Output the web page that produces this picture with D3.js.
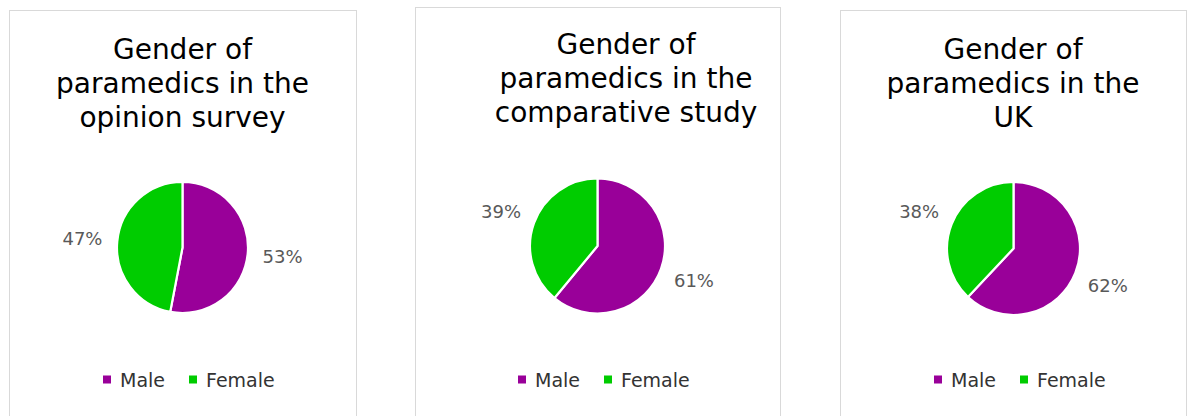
<!DOCTYPE html>
<html><head><meta charset="utf-8">
<script src="https://cdn.jsdelivr.net/npm/d3@7"></script>
<style>html,body{margin:0;padding:0;background:#fff;}svg{display:block;}</style>
</head><body>
<svg id="chart" width="1187" height="416"></svg>
<script>
// ---- data ----
const categories = ["Male", "Female"];
const titleLines = [
  ["Gender of", "paramedics in the", "opinion survey"],
  ["Gender of", "paramedics in the", "comparative study"],
  ["Gender of", "paramedics in the", "UK"]
];
const maleShare = [53, 61, 62];
const femaleShare = [47, 39, 38];
const colors = ["#990099", "#00CC00"];

// ---- layout (per panel) ----
const panels = [
  {x: 9.5, y: 10.5, w: 347, cx: 182.5, cy: 247.5, r: 65.5, tx: 182.5, ty: 59, lx: 103},
  {x: 415.5, y: 7.5, w: 365, cx: 597.5, cy: 246, r: 67.5, tx: 626, ty: 53.5, lx: 518},
  {x: 840.5, y: 10.5, w: 346, cx: 1013.5, cy: 248.5, r: 66.5, tx: 1013, ty: 59, lx: 934}
];

const svg = d3.select("#chart");
const font = "'DejaVu Sans', Verdana, sans-serif";
const color = d3.scaleOrdinal().domain(categories).range(colors);
const pie = d3.pie().sort(null).value(d => d.value);

panels.forEach((p, i) => {
  const g = svg.append("g");
  g.append("rect").attr("x", p.x).attr("y", p.y).attr("width", p.w).attr("height", 430)
    .attr("fill", "#fff").attr("stroke", "#d9d9d9").attr("stroke-width", 1);

  const t = g.append("text").attr("text-anchor", "middle").attr("font-family", font)
    .attr("font-size", 28).attr("fill", "#000");
  titleLines[i].forEach((line, k) => {
    t.append("tspan").attr("x", p.tx).attr("y", p.ty + k * 34.2).text(line);
  });

  const data = [
    {cat: categories[0], value: maleShare[i]},
    {cat: categories[1], value: femaleShare[i]}
  ];
  const arcs = pie(data);
  const arc = d3.arc().innerRadius(0).outerRadius(p.r);
  const pg = g.append("g").attr("transform", `translate(${p.cx},${p.cy})`);
  pg.selectAll("path").data(arcs).join("path")
    .attr("d", arc).attr("fill", d => color(d.data.cat))
    .attr("stroke", "#fff").attr("stroke-width", 2.2).attr("stroke-linejoin", "round");

  const labelArc = d3.arc().innerRadius(p.r + 35).outerRadius(p.r + 35);
  pg.selectAll("text").data(arcs).join("text")
    .attr("transform", d => `translate(${labelArc.centroid(d)})`)
    .attr("text-anchor", "middle").attr("dy", "0.36em")
    .attr("font-family", font).attr("font-size", 18).attr("fill", "#595959")
    .text(d => d.data.value + "%");

  // legend
  const lg = g.append("g").attr("transform", `translate(${p.lx},0)`);
  const offsets = [0, 86];
  categories.forEach((c, k) => {
    lg.append("rect").attr("x", offsets[k]).attr("y", 375.5).attr("width", 8).attr("height", 8)
      .attr("fill", color(c));
    lg.append("text").attr("x", offsets[k] + 17).attr("y", 387)
      .attr("font-family", font).attr("font-size", 19).attr("fill", "#333").text(c);
  });
});
</script>
</body></html>
